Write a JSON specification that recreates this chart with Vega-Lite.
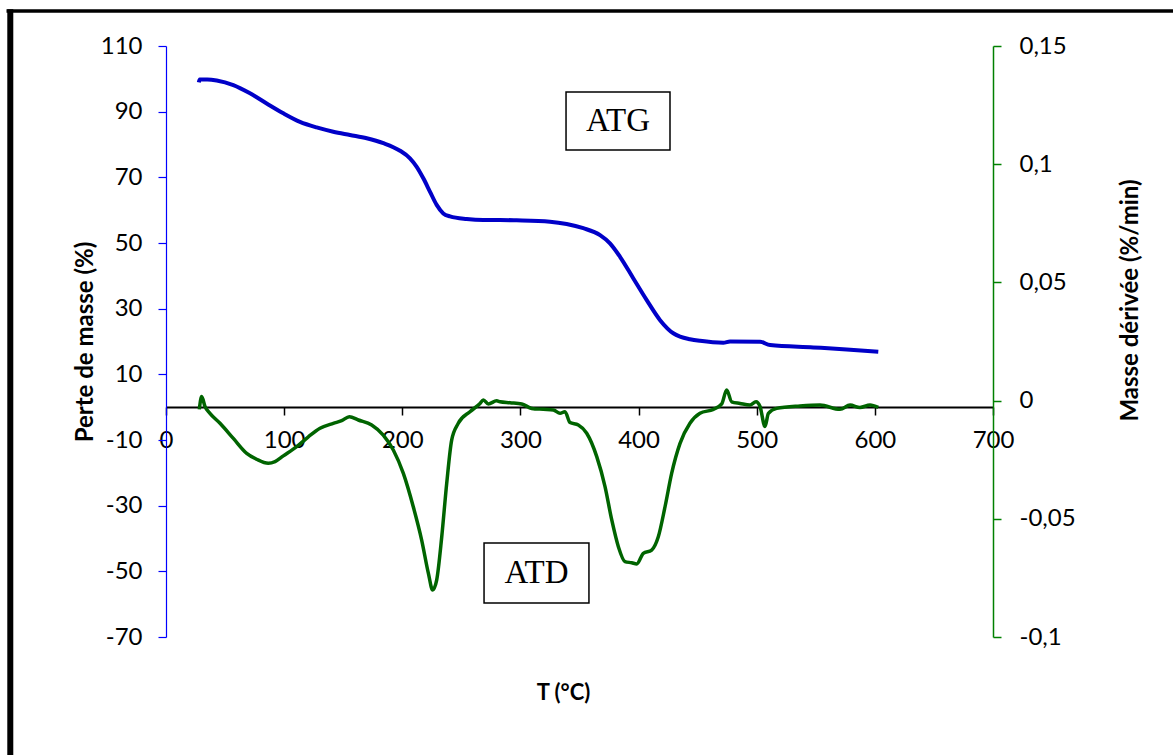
{
  "$schema": "https://vega.github.io/schema/vega-lite/v6.json",
  "width": 827,
  "height": 591,
  "autosize": {"type": "none"},
  "padding": {"left": 166, "top": 46, "right": 180, "bottom": 118},
  "background": "white",
  "config": {
    "view": {"stroke": null},
    "font": "Lato",
    "axis": {"labelFont": "Lato", "titleFont": "Lato", "labelFontSize": 24, "titleFontSize": 24, "labelColor": "black", "titleColor": "black", "grid": false}
  },
  "datasets": {
    "atg": [
      {"T": 27.8, "masse": 98.9}, {"T": 28.5, "masse": 99.8}, {"T": 35, "masse": 99.8}, {"T": 42.9, "masse": 99.5},
      {"T": 57, "masse": 98.1}, {"T": 71.1, "masse": 95.6}, {"T": 85.2, "masse": 92.5}, {"T": 99.3, "masse": 89.5},
      {"T": 113.4, "masse": 86.9}, {"T": 127.5, "masse": 85.2}, {"T": 141.6, "masse": 83.9}, {"T": 155.7, "masse": 82.9},
      {"T": 169.9, "masse": 81.9}, {"T": 184, "masse": 80.4}, {"T": 198.1, "masse": 78.1}, {"T": 206.5, "masse": 75.8},
      {"T": 212.2, "masse": 73.2}, {"T": 217.8, "masse": 69.7}, {"T": 223.5, "masse": 65.6}, {"T": 229.1, "masse": 61.6},
      {"T": 234.7, "masse": 59.0}, {"T": 240.4, "masse": 58.1}, {"T": 254.5, "masse": 57.3}, {"T": 268.6, "masse": 57.0},
      {"T": 282.7, "masse": 57.0}, {"T": 296.8, "masse": 56.9}, {"T": 325, "masse": 56.5}, {"T": 339.1, "masse": 55.8},
      {"T": 353.2, "masse": 54.5}, {"T": 367.4, "masse": 52.4}, {"T": 375.8, "masse": 49.9}, {"T": 384.3, "masse": 45.8},
      {"T": 395.6, "masse": 39.2}, {"T": 406.9, "masse": 32.6}, {"T": 418.2, "masse": 26.5}, {"T": 429.4, "masse": 22.5},
      {"T": 435.1, "masse": 21.5}, {"T": 443.5, "masse": 20.7}, {"T": 452, "masse": 20.2}, {"T": 471.7, "masse": 19.6},
      {"T": 477.4, "masse": 20.0}, {"T": 502.8, "masse": 19.9}, {"T": 511.3, "masse": 18.9}, {"T": 547.9, "masse": 18.2},
      {"T": 576.2, "masse": 17.6}, {"T": 602.9, "masse": 16.9}
    ],
    "atd": [
      {"T": 28.2, "deriv": -0.0037}, {"T": 30.2, "deriv": 0.0017}, {"T": 33.0, "deriv": -0.0025}, {"T": 37.2, "deriv": -0.0054},
      {"T": 45.7, "deriv": -0.0096}, {"T": 57.0, "deriv": -0.0160}, {"T": 68.3, "deriv": -0.0223}, {"T": 76.7, "deriv": -0.0248},
      {"T": 86.6, "deriv": -0.0265}, {"T": 92.3, "deriv": -0.0258}, {"T": 99.3, "deriv": -0.0234}, {"T": 110.6, "deriv": -0.0195},
      {"T": 120.5, "deriv": -0.0153}, {"T": 130.4, "deriv": -0.0117}, {"T": 141.6, "deriv": -0.0096}, {"T": 148.7, "deriv": -0.0085},
      {"T": 155.2, "deriv": -0.0068}, {"T": 162.8, "deriv": -0.0082}, {"T": 174.1, "deriv": -0.0103}, {"T": 183.9, "deriv": -0.0146},
      {"T": 192.4, "deriv": -0.0209}, {"T": 200.9, "deriv": -0.0308}, {"T": 209.3, "deriv": -0.0449}, {"T": 216.4, "deriv": -0.0590},
      {"T": 222.1, "deriv": -0.0731}, {"T": 225.7, "deriv": -0.0801}, {"T": 229.1, "deriv": -0.0759}, {"T": 233.4, "deriv": -0.0576},
      {"T": 237.6, "deriv": -0.0350}, {"T": 241.8, "deriv": -0.0167}, {"T": 247.4, "deriv": -0.0096}, {"T": 257.3, "deriv": -0.0047},
      {"T": 265.8, "deriv": -0.0012}, {"T": 268.6, "deriv": 0.0003}, {"T": 272.8, "deriv": -0.0014}, {"T": 279.9, "deriv": -0.0001},
      {"T": 282.7, "deriv": -0.0005}, {"T": 291.2, "deriv": -0.0009}, {"T": 301.1, "deriv": -0.0014}, {"T": 309.5, "deriv": -0.0033},
      {"T": 319.4, "deriv": -0.0037}, {"T": 327.9, "deriv": -0.0040}, {"T": 333.5, "deriv": -0.0054}, {"T": 337.7, "deriv": -0.0047},
      {"T": 342.0, "deriv": -0.0093}, {"T": 349.0, "deriv": -0.0103}, {"T": 356.1, "deriv": -0.0138}, {"T": 364.6, "deriv": -0.0237},
      {"T": 371.6, "deriv": -0.0364}, {"T": 377.3, "deriv": -0.0505}, {"T": 382.9, "deriv": -0.0618}, {"T": 388.5, "deriv": -0.0681},
      {"T": 394.2, "deriv": -0.0686}, {"T": 398.4, "deriv": -0.0691}, {"T": 404.0, "deriv": -0.0646}, {"T": 411.1, "deriv": -0.0632},
      {"T": 416.7, "deriv": -0.0576}, {"T": 422.4, "deriv": -0.0449}, {"T": 428.0, "deriv": -0.0308}, {"T": 435.1, "deriv": -0.0181},
      {"T": 443.5, "deriv": -0.0096}, {"T": 452.0, "deriv": -0.0054}, {"T": 463.3, "deriv": -0.0037}, {"T": 470.4, "deriv": -0.0014},
      {"T": 474.6, "deriv": 0.0045}, {"T": 478.8, "deriv": -0.0005}, {"T": 485.9, "deriv": -0.0012}, {"T": 494.3, "deriv": -0.0019},
      {"T": 499.4, "deriv": -0.0005}, {"T": 502.8, "deriv": -0.0025}, {"T": 507.0, "deriv": -0.0110}, {"T": 509.9, "deriv": -0.0054},
      {"T": 516.9, "deriv": -0.0033}, {"T": 536.6, "deriv": -0.0023}, {"T": 553.6, "deriv": -0.0019}, {"T": 570.5, "deriv": -0.0037},
      {"T": 579.0, "deriv": -0.0019}, {"T": 587.4, "deriv": -0.0029}, {"T": 595.9, "deriv": -0.0019}, {"T": 602.9, "deriv": -0.0029}
    ],
    "boxes": [
      {"label": "ATG", "T1": 338.6, "T2": 426.6, "m1": 95.99, "m2": 78.32, "Tc": 382.6, "mc": 87.2},
      {"label": "ATD", "T1": 269.2, "T2": 358.0, "m1": -41.37, "m2": -59.65, "Tc": 313.6, "mc": -50.5}
    ]
  },
  "layer": [
    {
      "layer": [
        {
          "data": {"values": [{"T": -135, "T2": 870, "masse": 120.66}]},
          "mark": {"type": "rule", "color": "black", "strokeWidth": 3.5, "clip": false},
          "encoding": {
            "x": {"field": "T", "type": "quantitative", "title": "T (°C)"},
            "x2": {"field": "T2"},
            "y": {"field": "masse", "type": "quantitative", "title": "Perte de masse (%)"}
          }
        },
        {
          "data": {"values": [{"T": -131.8, "masse": 121.2, "m2": -112}]},
          "mark": {"type": "rule", "color": "black", "strokeWidth": 6, "clip": false},
          "encoding": {
            "x": {"field": "T", "type": "quantitative", "title": "T (°C)"},
            "y": {"field": "masse", "type": "quantitative", "title": "Perte de masse (%)"},
            "y2": {"field": "m2"}
          }
        },
        {
          "data": {"name": "atg"},
          "mark": {"type": "line", "color": "#0000c8", "strokeWidth": 4, "interpolate": "monotone"},
          "encoding": {
            "x": {
              "field": "T", "type": "quantitative", "title": "T (°C)",
              "scale": {"domain": [0, 700], "nice": false, "zero": false},
              "axis": {
                "orient": "bottom", "offset": -230, "values": [0, 100, 200, 300, 400, 500, 600, 700],
                "domainColor": "black", "domainWidth": 2, "tickColor": "black", "tickWidth": 1.5, "tickSize": 8,
                "labelFontSize": 24, "labelPadding": 25, "labelBaseline": "middle", "labelAlign": "center", "labelFlush": false, "labelOverlap": false,
                "titleFontWeight": "bold", "titleFontSize": 22,
                "titleX": 397, "titleY": 285, "titleAlign": "center", "titleBaseline": "middle"
              }
            },
            "y": {
              "field": "masse", "type": "quantitative", "title": "Perte de masse (%)",
              "scale": {"domain": [-70, 110], "nice": false, "zero": false},
              "axis": {
                "orient": "left", "values": [-70, -50, -30, -10, 10, 30, 50, 70, 90, 110],
                "domainColor": "#0000ff", "domainWidth": 1.2, "tickColor": "#0000ff", "tickWidth": 1.2, "tickSize": 8,
                "labelFontSize": 24, "labelPadding": 16, "labelBaseline": "middle", "labelFlush": false, "labelOverlap": false,
                "labelExpr": "(datum.value < 0 ? '-' : '') + format(abs(datum.value), 'd')",
                "titleFontWeight": "bold", "titleFontSize": 24,
                "titleX": -81, "titleY": 295.5, "titleAngle": 270, "titleAlign": "center", "titleBaseline": "middle"
              }
            }
          }
        },
        {
          "data": {"name": "boxes"},
          "mark": {"type": "rect", "fill": "white", "stroke": "black", "strokeWidth": 1.5},
          "encoding": {
            "x": {"field": "T1", "type": "quantitative", "title": "T (°C)"},
            "x2": {"field": "T2"},
            "y": {"field": "m1", "type": "quantitative", "title": "Perte de masse (%)"},
            "y2": {"field": "m2"}
          }
        },
        {
          "data": {"name": "boxes"},
          "mark": {"type": "text", "font": "Liberation Serif", "fontSize": 33, "color": "black", "align": "center", "baseline": "middle"},
          "encoding": {
            "x": {"field": "Tc", "type": "quantitative", "title": "T (°C)"},
            "y": {"field": "mc", "type": "quantitative", "title": "Perte de masse (%)"},
            "text": {"field": "label"}
          }
        }
      ]
    },
    {
      "data": {"name": "atd"},
      "mark": {"type": "line", "color": "#006400", "strokeWidth": 3.5, "interpolate": "monotone"},
      "encoding": {
        "x": {"field": "T", "type": "quantitative", "title": "T (°C)"},
        "y": {
          "field": "deriv", "type": "quantitative", "title": "Masse dérivée (%/min)",
          "scale": {"domain": [-0.1, 0.15], "nice": false, "zero": false},
          "axis": {
            "orient": "right", "values": [-0.1, -0.05, 0, 0.05, 0.1, 0.15],
            "domainColor": "#008000", "domainWidth": 1.5, "tickColor": "#008000", "tickWidth": 1.5, "tickSize": 8,
            "labelFontSize": 24, "labelPadding": 18, "labelBaseline": "middle", "labelFlush": false, "labelOverlap": false,
            "labelExpr": "(datum.value < 0 ? '-' : '') + replace(format(abs(datum.value), '~g'), '.', ',')",
            "titleFontWeight": "bold", "titleFontSize": 24,
            "titleX": 137, "titleY": 254, "titleAngle": 270, "titleAlign": "center", "titleBaseline": "middle"
          }
        }
      }
    }
  ],
  "resolve": {"scale": {"y": "independent"}}
}
